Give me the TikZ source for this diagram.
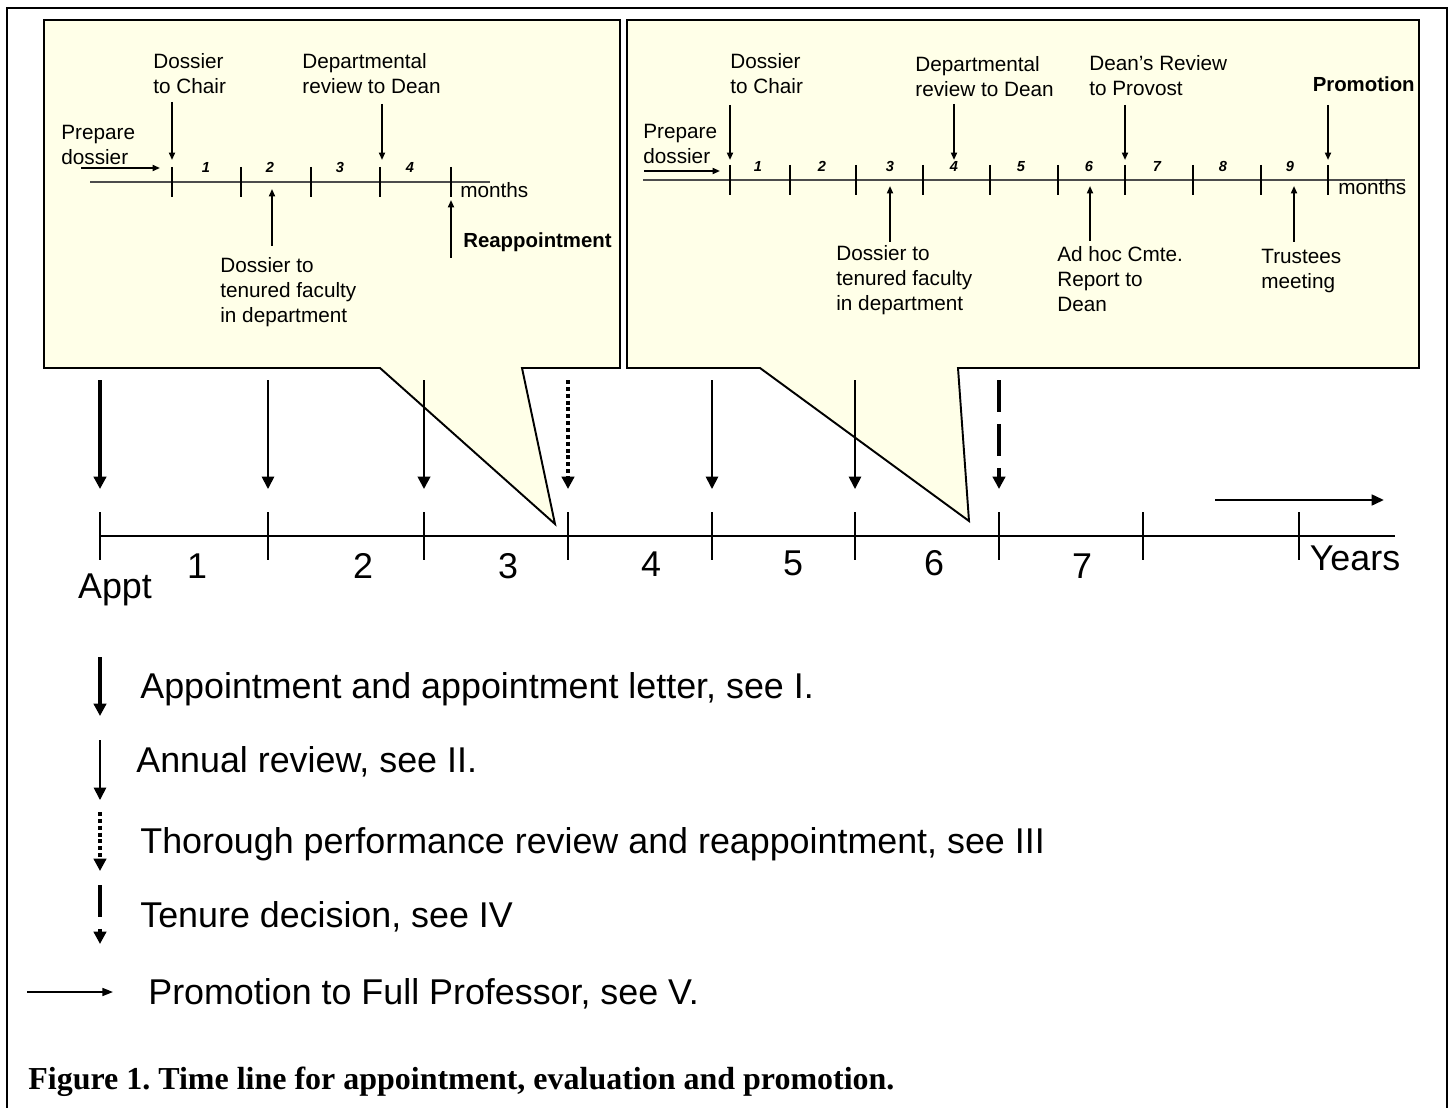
\documentclass[tikz,border=0pt]{standalone}
\usepackage{fontspec}
\setmainfont{Liberation Sans}
\newfontfamily\capfont{Liberation Serif}
\usetikzlibrary{arrows.meta}
\definecolor{note}{RGB}{255,255,232}
\frenchspacing

\begin{document}
\begin{tikzpicture}[x=0.02cm, y=-0.02cm,
small/.style={font=\fontsize{11.8}{14.2}\selectfont, inner sep=0, align=left},
smallb/.style={font=\fontsize{11.6}{14}\selectfont\bfseries, inner sep=0},
mnum/.style={font=\fontsize{8.3}{10}\selectfont\bfseries\itshape, inner sep=0},
big/.style={font=\fontsize{20.4}{24}\selectfont, inner sep=0},
callout/.style={draw, line width=1.1pt, fill=note, line join=miter},
mline/.style={line width=1pt, draw=black!70},
mtick/.style={line width=0.7pt},
ytick/.style={line width=0.8pt},
sarrow/.style={-{Triangle[length=4.2pt,width=3.4pt]}, line width=1pt},
appt/.style={-{Triangle[length=7pt,width=7pt]}, line width=2.6pt},
annual/.style={-{Triangle[length=7pt,width=7pt]}, line width=1pt},
annualb/.style={-{Triangle[length=7pt,width=7pt]}, line width=1.5pt},
review/.style={-{Triangle[length=7pt,width=7pt]}, line width=2.3pt, dash pattern=on 2.3pt off 1.6pt},
tenure/.style={-{Triangle[length=7pt,width=7pt]}, line width=2.6pt, dash pattern=on 18pt off 7pt},
promo/.style={-{Triangle[length=7pt,width=6pt]}, line width=1.6pt},
promol/.style={-{Triangle[length=6pt,width=4.5pt]}, line width=1pt}]
\useasboundingbox (0,0) rectangle (1450,1108);
\draw[line width=1.1pt] (7,1112) -- (7,8) -- (1447,8) -- (1447,1112);

% callouts
\draw[callout] (44,20) -- (620,20) -- (620,368) -- (522,368) -- (555,524) -- (380,368) -- (44,368) -- cycle;
\draw[callout] (627,20) -- (1419,20) -- (1419,368) -- (958,368) -- (969,521) -- (760,368) -- (627,368) -- cycle;

% first callout: reappointment
\draw[mline] (90,182) -- (490,182);
\foreach \x in {172,241,311,380,451}
  \draw[mtick] (\x,167) -- (\x,197);
\node[mnum, anchor=base] (lm1) at (206,173) {1};
\node[mnum, anchor=base] (lm2) at (270,173) {2};
\node[mnum, anchor=base] (lm3) at (340,173) {3};
\node[mnum, anchor=base] (lm4) at (410,173) {4};
\node[small, anchor=north west] (lprep) at (61,125) {Prepare\\dossier};
\node[small, anchor=north west] (lchair) at (153,53) {Dossier\\to Chair};
\node[small, anchor=north west] (ldept) at (302,53) {Departmental\\review to Dean};
\node[small, anchor=north west] (lfac) at (220,257) {Dossier to\\tenured faculty\\in department};
\node[small, anchor=base west] (lmon) at (460,198) {months};
\node[smallb, anchor=base west] (lreap) at (463,248) {Reappointment};
\coordinate (lp1) at (81,168);  \coordinate (lp2) at (160,168);
\coordinate (lc1) at (172,102); \coordinate (lc2) at (172,160);
\coordinate (ld1) at (382,104); \coordinate (ld2) at (382,160);
\coordinate (lf1) at (272,246); \coordinate (lf2) at (272,189);
\coordinate (lr1) at (451,258); \coordinate (lr2) at (451,200);
\draw[sarrow] (lp1) -- (lp2);
\draw[sarrow] (lc1) -- (lc2);
\draw[sarrow] (ld1) -- (ld2);
\draw[sarrow] (lf1) -- (lf2);
\draw[sarrow] (lr1) -- (lr2);

% second callout: tenure and promotion
\draw[mline] (643,180) -- (1405,180);
\foreach \x in {730,790,856,923,990,1058,1125,1193,1261,1328}
  \draw[mtick] (\x,165) -- (\x,195);
\foreach \x/\n in {758/1,822/2,890/3,954/4,1021/5,1089/6,1157/7,1223/8,1290/9}
  \node[mnum, anchor=base] (rm\n) at (\x,172) {\n};
\node[small, anchor=north west] (rprep) at (643,124) {Prepare\\dossier};
\node[small, anchor=north west] (rchair) at (730,53) {Dossier\\to Chair};
\node[small, anchor=north west] (rdept) at (915,56) {Departmental\\review to Dean};
\node[small, anchor=north west] (rdean) at (1089,55) {Dean’s Review\\to Provost};
\node[smallb, anchor=base east] (rprom) at (1415,92) {Promotion};
\node[small, anchor=north west] (rfac) at (836,245) {Dossier to\\tenured faculty\\in department};
\node[small, anchor=north west] (radhoc) at (1057,246) {Ad hoc Cmte.\\Report to\\Dean};
\node[small, anchor=north west] (rtrust) at (1261,249) {Trustees\\meeting};
\node[small, anchor=base west] (rmon) at (1338,195) {months};
\coordinate (rp1) at (644,171);  \coordinate (rp2) at (720,171);
\coordinate (rc1) at (730,105);  \coordinate (rc2) at (730,160);
\coordinate (rd1) at (954,104);  \coordinate (rd2) at (954,160);
\coordinate (rv1) at (1125,105); \coordinate (rv2) at (1125,160);
\coordinate (ro1) at (1328,105); \coordinate (ro2) at (1328,160);
\coordinate (rf1) at (890,242);  \coordinate (rf2) at (890,186);
\coordinate (ra1) at (1090,241); \coordinate (ra2) at (1090,186);
\coordinate (rt1) at (1294,242); \coordinate (rt2) at (1294,186);
\draw[sarrow] (rp1) -- (rp2);
\draw[sarrow] (rc1) -- (rc2);
\draw[sarrow] (rd1) -- (rd2);
\draw[sarrow] (rv1) -- (rv2);
\draw[sarrow] (ro1) -- (ro2);
\draw[sarrow] (rf1) -- (rf2);
\draw[sarrow] (ra1) -- (ra2);
\draw[sarrow] (rt1) -- (rt2);

% years
\coordinate (ys) at (100,536); \coordinate (ye) at (1395,536);
\draw[line width=1pt] (ys) -- (ye);
\foreach \x in {100,268,424,568,712,855,999,1143,1299}
  \draw[ytick] (\x,512) -- (\x,560);
\node[big, anchor=base] (appt) at (115,598) {Appt};
\node[big, anchor=base] (y1) at (197,578) {1};
\node[big, anchor=base] (y2) at (363,578) {2};
\node[big, anchor=base] (y3) at (508,578) {3};
\node[big, anchor=base] (y4) at (651,576) {4};
\node[big, anchor=base] (y5) at (793,575) {5};
\node[big, anchor=base] (y6) at (934,575) {6};
\node[big, anchor=base] (y7) at (1082,578) {7};
\node[big, anchor=base] (years) at (1355,570) {Years};
\foreach \x/\s [count=\i] in {100/appt,268/annual,424/annualb,568/review,712/annual,855/annual,999/tenure}{
  \coordinate (u\i) at (\x,380);
  \coordinate (v\i) at (\x,489);
  \draw[\s] (u\i) -- (v\i);
}
\coordinate (pa) at (1215,500); \coordinate (pb) at (1384,500);
\draw[promo] (pa) -- (pb);

% legend
\node[big, anchor=base west] (k1) at (140,698) {Appointment and appointment letter, see I.};
\node[big, anchor=base west] (k2) at (136,772) {Annual review, see II.};
\node[big, anchor=base west] (k3) at (140,853) {Thorough performance review and reappointment, see III};
\node[big, anchor=base west] (k4) at (140,927) {Tenure decision, see IV};
\node[big, anchor=base west] (k5) at (148,1004) {Promotion to Full Professor, see V.};
\coordinate (k1a) at (100,657); \coordinate (k1b) at (100,716);
\coordinate (k2a) at (100,740); \coordinate (k2b) at (100,800);
\coordinate (k3a) at (100,812); \coordinate (k3b) at (100,871);
\coordinate (k4a) at (100,885); \coordinate (k4b) at (100,944);
\coordinate (k5a) at (27,992);  \coordinate (k5b) at (113,992);
\draw[appt] (k1a) -- (k1b);
\draw[annual] (k2a) -- (k2b);
\draw[review] (k3a) -- (k3b);
\draw[tenure] (k4a) -- (k4b);
\draw[promol] (k5a) -- (k5b);

\node[font=\fontsize{18.2}{22}\selectfont\capfont\bfseries, inner sep=0, anchor=base west] (cap) at (28,1089) {Figure 1. Time line for appointment, evaluation and promotion.};
\end{tikzpicture}
\end{document}
